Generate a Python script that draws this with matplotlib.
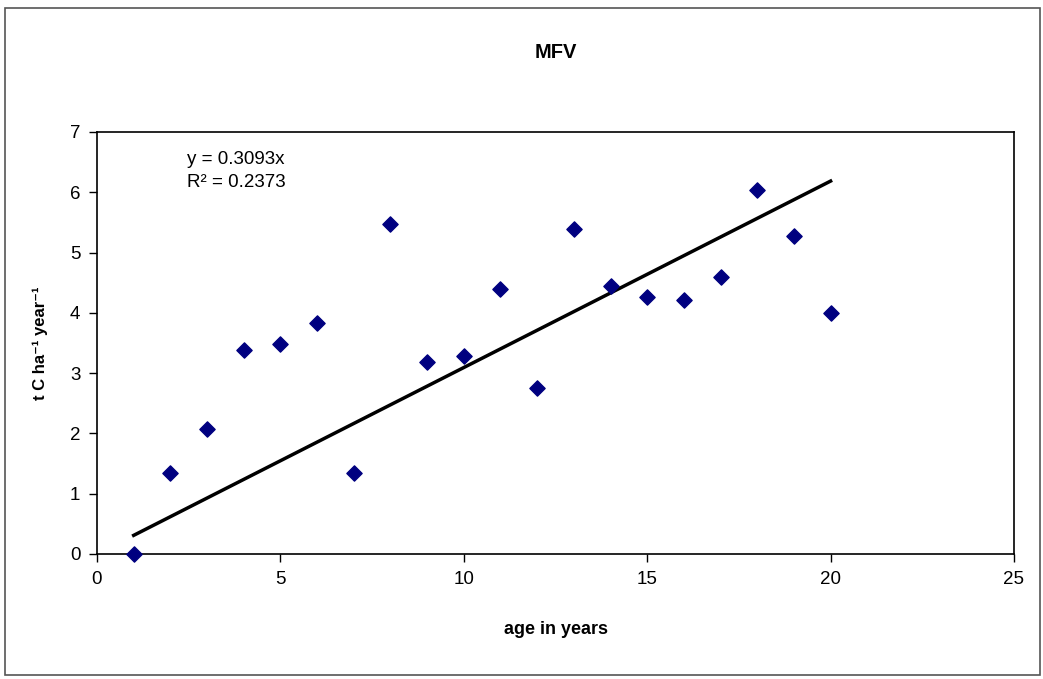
import matplotlib
matplotlib.use("Agg")
import matplotlib.pyplot as plt
from matplotlib.patches import Rectangle
import numpy as np

plt.rcParams['font.family'] = ['Liberation Sans', 'DejaVu Sans']

age = [1, 2, 3, 4, 5, 6, 7, 8, 9, 10, 11, 12, 13, 14, 15, 16, 17, 18, 19, 20]
carbon = [0.0, 1.35, 2.08, 3.39, 3.48, 3.84, 1.35, 5.47, 3.18, 3.29,
          4.39, 2.76, 5.39, 4.44, 4.27, 4.21, 4.59, 6.04, 5.27, 3.99]
slope = 0.3093
r2 = 0.2373
xticks = [0, 5, 10, 15, 20, 25]
yticks = [0, 1, 2, 3, 4, 5, 6, 7]

fig = plt.figure(figsize=(10.43, 6.79), dpi=100)
ax = fig.add_axes([97/1043, 1-554/679, (1014-97)/1043, (554-132)/679])

fig.patches.append(Rectangle((5/1043, 1-675/679), 1035/1043, 667/679,
                             transform=fig.transFigure, fill=False,
                             edgecolor='#555555', linewidth=1.2))

fit_x = np.array([age[0], age[-1]])
ax.plot(fit_x, slope * fit_x, color='black', linewidth=2.5, zorder=2)
ax.scatter(age, carbon, marker='D', s=60, color='#000080', zorder=3, clip_on=False)

ax.set_xlim(0, 25)
ax.set_ylim(0, 7)
ax.set_xticks(xticks)
ax.set_yticks(yticks)
ax.tick_params(direction='out', length=6, width=1, labelsize=13.5, colors='black', pad=6)
for s in ax.spines.values():
    s.set_linewidth(1.2)

ax.text(2.45, 6.69, f"y = {slope}x\nR² = {r2}", fontsize=13.5, va='top', ha='left',
        linespacing=1.45, transform=ax.transData)

fig.text((97+1014)/2/1043, 1-52/679, "MFV", ha='center', va='center',
         fontsize=14.5, fontweight='bold')
ax.set_xlabel("age in years", fontsize=13, fontweight='bold', labelpad=24)
ax.set_ylabel("t C ha⁻¹ year⁻¹", fontsize=12, fontweight='bold', labelpad=16)

fig.savefig("out.png", dpi=100)
